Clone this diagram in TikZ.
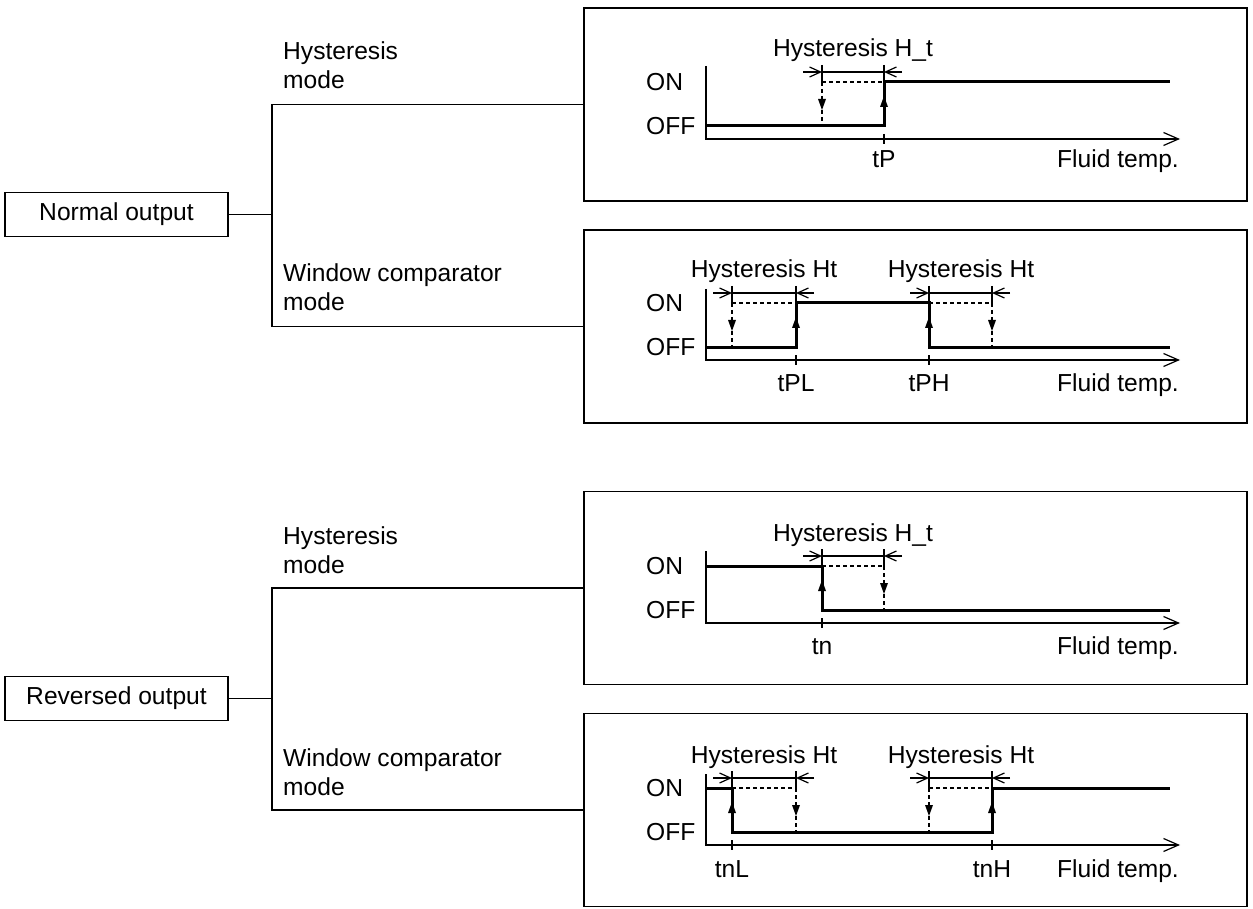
\documentclass[tikz,border=0pt]{standalone}
\usepackage{fontspec}
\setmainfont{Liberation Sans}
\usetikzlibrary{arrows.meta}
\newcommand{\dimmark}[3]{%
  \draw[thinline] (#1,#3-17) -- (#1,#3);
  \draw[thinline] (#2,#3-17) -- (#2,#3);
  \draw[thinline,-{Straight Barb[length=11pt,width=10pt]}] (#1-19,#3-10) -- (#1,#3-10);
  \draw[thinline] (#1,#3-10) -- (#2,#3-10);
  \draw[thinline,-{Straight Barb[length=11pt,width=10pt]}] (#2+18,#3-10) -- (#2,#3-10);
}
\newcommand{\uptri}[2]{\fill (#1-4,#2+6) -- (#1+4,#2+6) -- (#1,#2-5) -- cycle;}
\newcommand{\downtri}[2]{\fill (#1-4,#2-5) -- (#1+4,#2-5) -- (#1,#2+6) -- cycle;}
\newcommand{\axtick}[2]{\draw[thinline] (#1,#2-5) -- (#1,#2+5);}
\begin{document}
\begin{tikzpicture}[x=1pt,y=-1pt,
  every node/.style={font=\fontsize{24.6}{29}\selectfont, inner sep=0pt},
  thinline/.style={line width=1.2pt},
  thickline/.style={line width=3pt},
  dashline/.style={line width=1.1pt, dash pattern=on 4pt off 3pt},
  outbox/.style={draw, line width=1.4pt, minimum width=223pt, minimum height=44pt},
  chartbox/.style={draw, line width=1.4pt, minimum width=663pt, minimum height=193pt},
  modelbl/.style={align=left, anchor=south west},
  axisline/.style={line width=1.2pt, -{Straight Barb[length=15pt,width=13pt]}},
  ticklbl/.style={anchor=base},
  hlbl/.style={anchor=base},
  levlbl/.style={anchor=west}
]
\useasboundingbox (0,0) rectangle (1253,909);

% ---------- left tree: normal output ----------
\node[outbox] (n1) at (116.5,214.5) {Normal output};
\node[chartbox] (c1) at (915.5,104.5) {};
\node[chartbox] (c2) at (915.5,326.5) {};
\coordinate (j1) at (272,214.5);
\draw[thinline] (n1.east) -- (j1);
\draw[thinline] (c1.west) -| (j1) |- (c2.west);
\node[modelbl] (m1) at (283,89) {Hysteresis\\mode};
\node[modelbl] (m2) at (283,311) {Window comparator\\mode};

% ---------- left tree: reversed output ----------
\node[outbox] (n2) at (116.5,698.5) {Reversed output};
\node[chartbox] (c3) at (915.5,588) {};
\node[chartbox] (c4) at (915.5,810) {};
\coordinate (j2) at (272,698.5);
\draw[thinline] (n2.east) -- (j2);
\draw[thinline] (c3.west) -| (j2) |- (c4.west);
\node[modelbl] (m3) at (283,574) {Hysteresis\\mode};
\node[modelbl] (m4) at (283,796) {Window comparator\\mode};

% ---------- chart 1 ----------
\draw[axisline] (706,66) -- (706,139) -- (1180,139);
\node[levlbl] (on1) at (646,82) {ON};
\node[levlbl] (off1) at (646,126) {OFF};
\draw[thickline] (706,126) -- (884,126) -- (884,82) -- (1170,82);
\draw[dashline] (822,82) -- (884,82);
\draw[dashline] (822,82) -- (822,126);
\dimmark{822}{884}{82}
\uptri{884}{101}
\downtri{822}{104}
\axtick{884}{139}
\node[hlbl] (h1) at (853,57) {Hysteresis H\_t};
\node[ticklbl] (t1) at (884,168) {tP};
\node[ticklbl, anchor=base east] (f1) at (1179,168) {Fluid temp.};

% ---------- chart 2 ----------
\draw[axisline] (706,289) -- (706,360) -- (1180,360);
\node[levlbl] (on2) at (646,303) {ON};
\node[levlbl] (off2) at (646,347) {OFF};
\draw[thickline] (706,347) -- (796,347) -- (796,303) -- (929,303) -- (929,347) -- (1170,347);
\draw[dashline] (732,303) -- (796,303);
\draw[dashline] (732,303) -- (732,347);
\draw[dashline] (929,303) -- (992,303);
\draw[dashline] (992,303) -- (992,347);
\dimmark{732}{796}{303}
\dimmark{929}{992}{303}
\uptri{796}{322}
\uptri{929}{322}
\downtri{732}{325}
\downtri{992}{325}
\axtick{796}{360}
\axtick{929}{360}
\node[hlbl] (h2) at (764,278) {Hysteresis Ht};
\node[hlbl] (h3) at (961,278) {Hysteresis Ht};
\node[ticklbl] (t2) at (796,391) {tPL};
\node[ticklbl] (t3) at (929,391) {tPH};
\node[ticklbl, anchor=base east] (f2) at (1179,391) {Fluid temp.};

% ---------- chart 3 ----------
\draw[axisline] (706,551) -- (706,623) -- (1180,623);
\node[levlbl] (on3) at (646,566) {ON};
\node[levlbl] (off3) at (646,610) {OFF};
\draw[thickline] (706,566) -- (822,566) -- (822,610) -- (1170,610);
\draw[dashline] (822,566) -- (884,566);
\draw[dashline] (884,566) -- (884,610);
\dimmark{822}{884}{566}
\uptri{822}{585}
\downtri{884}{588}
\axtick{822}{623}
\node[hlbl] (h4) at (853,541) {Hysteresis H\_t};
\node[ticklbl] (t4) at (822,654) {tn};
\node[ticklbl, anchor=base east] (f3) at (1179,654) {Fluid temp.};

% ---------- chart 4 ----------
\draw[axisline] (706,774) -- (706,845) -- (1180,845);
\node[levlbl] (on4) at (646,788) {ON};
\node[levlbl] (off4) at (646,832) {OFF};
\draw[thickline] (706,788) -- (732,788) -- (732,832) -- (992,832) -- (992,788) -- (1170,788);
\draw[dashline] (732,788) -- (796,788);
\draw[dashline] (796,788) -- (796,832);
\draw[dashline] (929,788) -- (992,788);
\draw[dashline] (929,788) -- (929,832);
\dimmark{732}{796}{788}
\dimmark{929}{992}{788}
\uptri{732}{807}
\uptri{992}{807}
\downtri{796}{810}
\downtri{929}{810}
\axtick{732}{845}
\axtick{992}{845}
\node[hlbl] (h5) at (764,763) {Hysteresis Ht};
\node[hlbl] (h6) at (961,763) {Hysteresis Ht};
\node[ticklbl] (t5) at (732,877) {tnL};
\node[ticklbl] (t6) at (992,877) {tnH};
\node[ticklbl, anchor=base east] (f4) at (1179,877) {Fluid temp.};
\end{tikzpicture}
\end{document}
